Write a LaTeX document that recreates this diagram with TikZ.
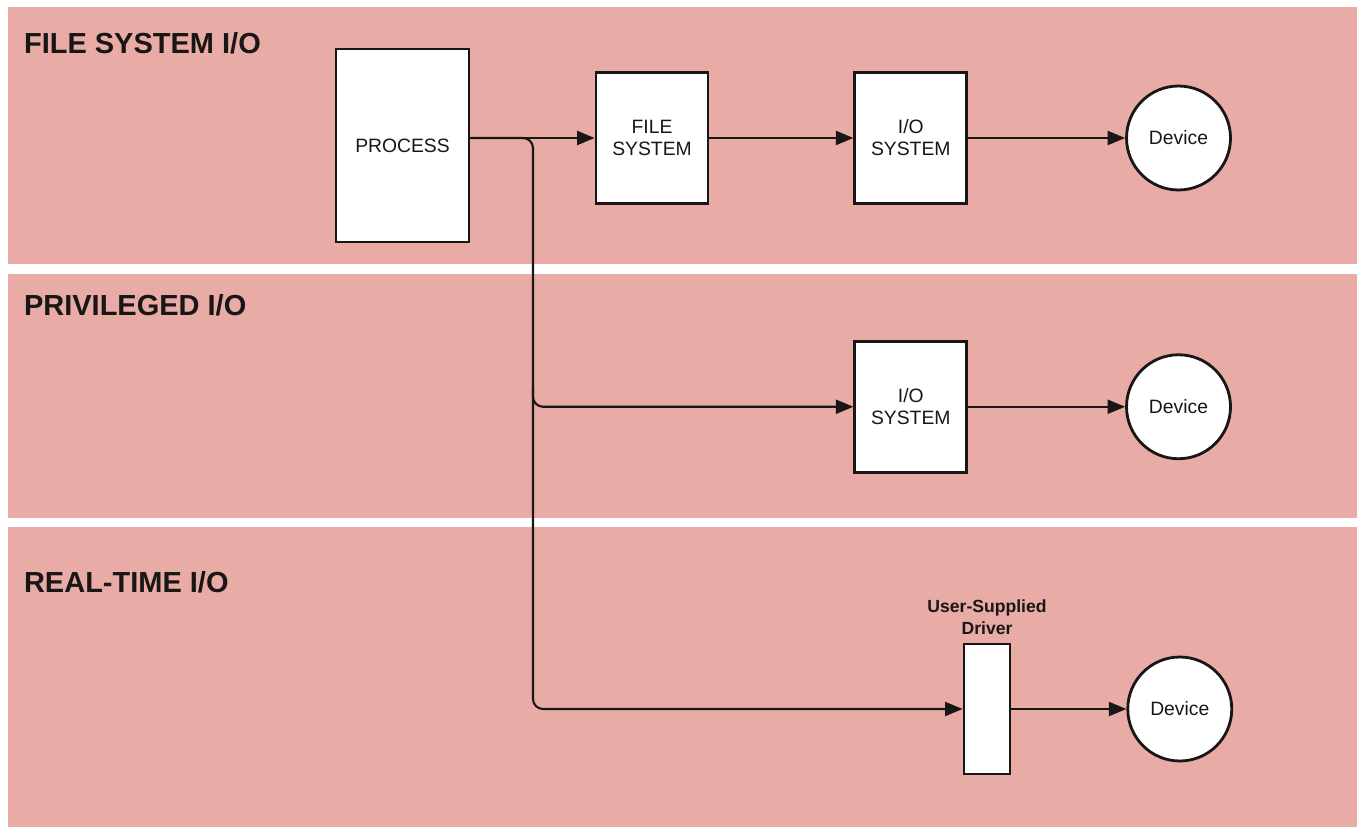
\documentclass[tikz,border=0pt]{standalone}
\usepackage{fontspec}
\setmainfont{Liberation Sans}
\usetikzlibrary{arrows.meta,positioning,calc}
\definecolor{bandpink}{RGB}{232,171,166}
\definecolor{ink}{RGB}{25,22,22}
\tikzset{band/.style={fill=bandpink,draw=none},
  bandtitle/.style={anchor=west,inner sep=0pt,text=ink,font=\bfseries\fontsize{16.5}{19}\selectfont},
  box/.style={draw=ink,fill=white,line width=1.6pt,align=center,inner sep=0pt,text=ink,font=\fontsize{11}{12.5}\selectfont},
  device/.style={circle,draw=ink,fill=white,line width=1.6pt,minimum size=2.08cm,inner sep=0pt,text=ink,font=\fontsize{11}{12.5}\selectfont}}

\begin{document}
\begin{tikzpicture}[x=0.02cm, y=-0.02cm, >={Triangle[length=10pt,width=8pt]}, line width=1.2pt, draw=ink]
\useasboundingbox (0,0) rectangle (1359,827);
% the three bands
\fill[white] (0,0) rectangle (1359,827);
\fill[band] (8,7) rectangle (1357,264);
\fill[band] (8,274) rectangle (1357,518);
\fill[band] (8,527) rectangle (1357,827);
\node[bandtitle] (t1) at (23,43) {FILE SYSTEM I/O};
\node[bandtitle] (t2) at (23,305) {PRIVILEGED I/O};
\node[bandtitle] (t3) at (23,582) {REAL-TIME I/O};
% boxes
\node[box, minimum width=2.66cm, minimum height=3.86cm] (proc) at (402.5,145.5) {PROCESS};
\node[box, minimum width=2.24cm, minimum height=2.62cm] (fs) at (652,138) {FILE\\SYSTEM};
\node[box, minimum width=2.24cm, minimum height=2.62cm, right=2.88cm of fs] (io1) {I/O\\SYSTEM};
\node[device, right=3.14cm of io1] (dev1) {Device};
\node[box, minimum width=2.24cm, minimum height=2.62cm, below=2.7cm of io1] (io2) {I/O\\SYSTEM};
\node[device, right=3.14cm of io2] (dev2) {Device};
\node[box, minimum width=0.92cm, minimum height=2.6cm] (drv) at (987,709) {};
\node[device, right=2.3cm of drv] (dev3) {Device};
\node[text=ink, align=center, font=\bfseries\fontsize{10}{12.5}\selectfont, above=0.02cm of drv] (drvlbl) {User-Supplied\\Driver};
\coordinate (bus) at (533,0);
% connectors
\draw[->] (proc.east |- fs.west) -- (fs);
\draw[->] (fs) -- (io1);
\draw[->] (io1) -- (dev1);
\draw[->] (io2) -- (dev2);
\draw[->] (drv) -- (dev3);
\draw[->, rounded corners=0.2cm] (proc.east |- fs.west) -| (bus |- drv.west) -- (drv.west);
\draw[->, rounded corners=0.2cm] ([yshift=0.4cm]bus |- io2.west) -- (bus |- io2.west) -- (io2.west);
\end{tikzpicture}
\end{document}
